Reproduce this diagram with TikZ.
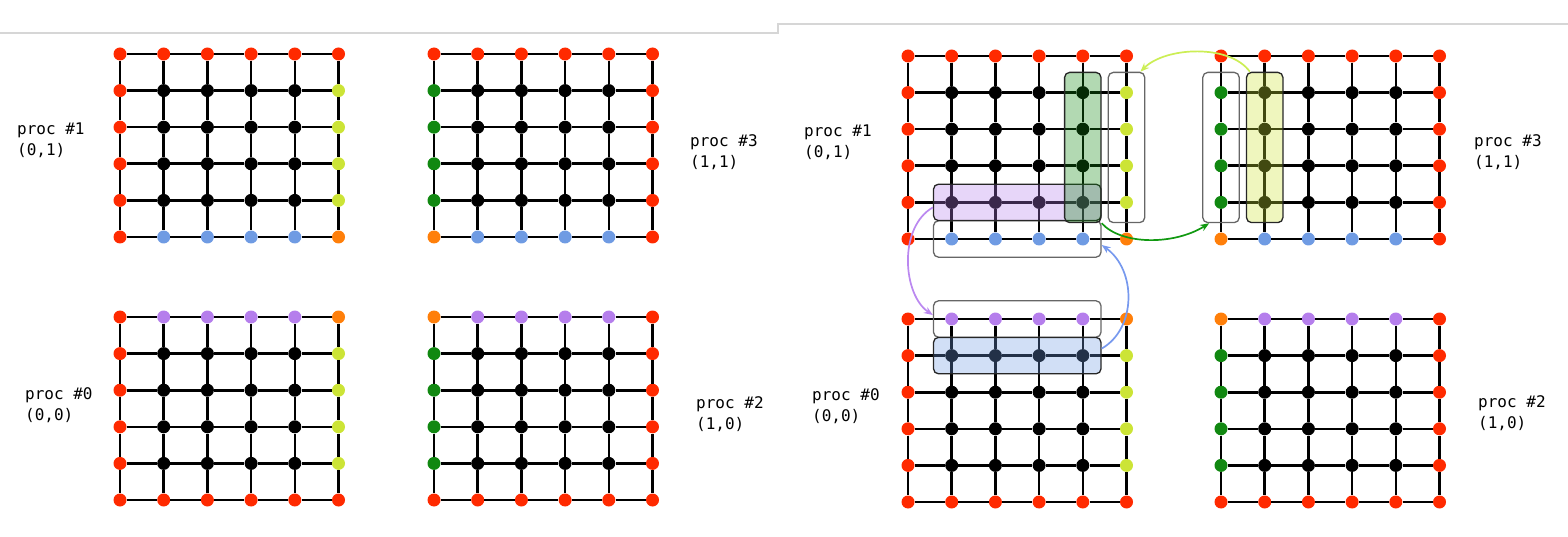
\documentclass[tikz,border=0pt]{standalone}
\usepackage{fontspec}
\setmonofont{DejaVu Sans Mono}
\usetikzlibrary{fit,arrows.meta}

\definecolor{dotRed}{HTML}{FF2A00}
\definecolor{dotOrange}{HTML}{FF7F0A}
\definecolor{dotLime}{HTML}{CCE436}
\definecolor{dotBlue}{HTML}{6F9BE3}
\definecolor{dotPurple}{HTML}{B57EEC}
\definecolor{dotGreen}{HTML}{118811}
\definecolor{arrowLime}{HTML}{CCEE55}
\definecolor{arrowGreen}{HTML}{119911}
\definecolor{arrowPurple}{HTML}{BB88F0}
\definecolor{arrowBlue}{HTML}{7799EE}
\definecolor{sepGray}{HTML}{D6D6D6}

\begin{document}
\begin{tikzpicture}
[x=1pt,y=-1pt,
  lineDecorate/.style={-,line width=2.6pt},%
  nodeDecorate/.style={shape=circle,inner sep=0pt,minimum size=13pt},
  labelDecorate/.style={anchor=west,align=left,inner sep=0pt,
    font=\ttfamily\fontsize{16}{21}\selectfont},
  boxFill/.style={draw=black!85,line width=1.3pt,rounded corners=5pt,
    fill opacity=0.32,inner sep=11.5pt},
  boxGhost/.style={draw=black!60,line width=1.3pt,rounded corners=5pt,
    inner sep=11.5pt},
  arrowDecorate/.style={-{Stealth[length=9pt,width=7pt]},line width=1.7pt}]
\useasboundingbox (0,0) rectangle (1568,537);
%% page edges
\draw[sepGray,line width=1.2pt] (0,33) -- (778,33) -- (778,24) -- (1568,24);
%% nodes or vertices
\foreach \g/\ox/\oy/\ctl/\ctm/\ctr/\cml/\cmr/\cbl/\cbm/\cbr in {
  L1/120/54/dotRed/dotRed/dotRed/dotRed/dotLime/dotRed/dotBlue/dotOrange,
  L3/434/54/dotRed/dotRed/dotRed/dotGreen/dotRed/dotOrange/dotBlue/dotRed,
  L0/120/317/dotRed/dotPurple/dotOrange/dotRed/dotLime/dotRed/dotRed/dotRed,
  L2/434/317/dotOrange/dotPurple/dotRed/dotGreen/dotRed/dotRed/dotRed/dotRed,
  R1/908/56/dotRed/dotRed/dotRed/dotRed/dotLime/dotRed/dotBlue/dotOrange,
  R3/1221/56/dotRed/dotRed/dotRed/dotGreen/dotRed/dotOrange/dotBlue/dotRed,
  R0/908/319/dotRed/dotPurple/dotOrange/dotRed/dotLime/dotRed/dotRed/dotRed,
  R2/1221/319/dotOrange/dotPurple/dotRed/dotGreen/dotRed/dotRed/dotRed/dotRed}
{
  \foreach \r in {0,...,5}
  \foreach \c in {0,...,5}
  {
    \edef\dotcol{black}
    \ifnum\r=0 \edef\dotcol{\ctm}\ifnum\c=0 \edef\dotcol{\ctl}\fi\ifnum\c=5 \edef\dotcol{\ctr}\fi
    \else\ifnum\r=5 \edef\dotcol{\cbm}\ifnum\c=0 \edef\dotcol{\cbl}\fi\ifnum\c=5 \edef\dotcol{\cbr}\fi
    \else\ifnum\c=0 \edef\dotcol{\cml}\fi\ifnum\c=5 \edef\dotcol{\cmr}\fi
    \fi\fi
    \node (\g-\r-\c) at (\ox+\c*43.7,\oy+\r*36.6) [nodeDecorate,fill=\dotcol] {};
  }
}
%% edges or lines
\path
\foreach \g in {L1,L3,L0,L2,R1,R3,R0,R2}
{
  \foreach \r in {0,...,5}
  \foreach \c/\d in {0/1,1/2,2/3,3/4,4/5}
  {
    (\g-\r-\c) edge[lineDecorate] (\g-\r-\d)
    (\g-\c-\r) edge[lineDecorate] (\g-\d-\r)
  }
};
%% labels
\node (lbL1) at (17,140) [labelDecorate] {proc \#1\\(0,1)};
\node (lbL3) at (690,152) [labelDecorate] {proc \#3\\(1,1)};
\node (lbL0) at (25,405) [labelDecorate] {proc \#0\\(0,0)};
\node (lbL2) at (696,414) [labelDecorate] {proc \#2\\(1,0)};
\node (lbR1) at (804,142) [labelDecorate] {proc \#1\\(0,1)};
\node (lbR3) at (1474,152) [labelDecorate] {proc \#3\\(1,1)};
\node (lbR0) at (812,406) [labelDecorate] {proc \#0\\(0,0)};
\node (lbR2) at (1478,413) [labelDecorate] {proc \#2\\(1,0)};
%% halo boxes
\node (ghostA) [boxGhost,inner ysep=13.5pt,fit=(R1-1-5)(R1-4-5)] {};
\node (ghostB) [boxGhost,fit=(R1-5-1)(R1-5-4)] {};
\node (ghostC) [boxGhost,fit=(R0-0-1)(R0-0-4)] {};
\node (ghostD) [boxGhost,inner ysep=13.5pt,fit=(R3-1-0)(R3-4-0)] {};
\node (hiPurple) [boxFill,fill=dotPurple,fit=(R1-4-1)(R1-4-4)] {};
\node (hiGreen) [boxFill,fill=dotGreen,inner ysep=13.5pt,fit=(R1-1-4)(R1-4-4)] {};
\node (hiBlue) [boxFill,fill=dotBlue,fit=(R0-1-1)(R0-1-4)] {};
\node (hiYellow) [boxFill,fill=dotLime,inner ysep=13.5pt,fit=(R3-1-1)(R3-4-1)] {};
%% exchanges
\draw[arrowDecorate,arrowLime] ([xshift=4pt]hiYellow.north west)
  .. controls +(-20,-28) and +(25,-25) .. ([xshift=-5pt]ghostA.north east);
\draw[arrowDecorate,arrowGreen] (hiGreen.south east)
  .. controls +(20,22) and +(-35,22) .. ([xshift=7pt]ghostD.south west);
\draw[arrowDecorate,arrowPurple] ([yshift=-5pt]hiPurple.west)
  .. controls +(-35,20) and +(-30,-20) .. ([yshift=4pt]ghostC.west);
\draw[arrowDecorate,arrowBlue] ([yshift=7pt]hiBlue.east)
  .. controls +(35,-20) and +(35,25) .. ([yshift=-6pt]ghostB.east);
\end{tikzpicture}
\end{document}
